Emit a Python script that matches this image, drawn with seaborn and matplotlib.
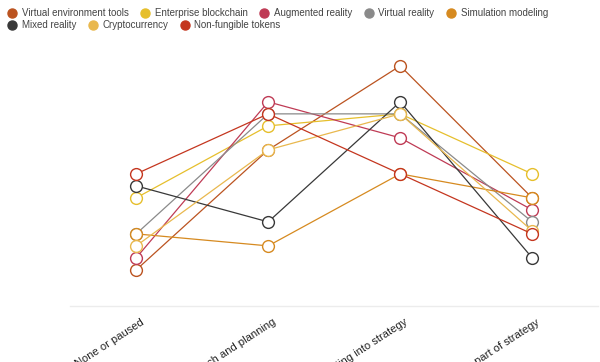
import matplotlib
matplotlib.use("Agg")
import matplotlib.pyplot as plt
import matplotlib.transforms as mtransforms
from matplotlib.lines import Line2D
import pandas as pd
import seaborn as sns

# --- data (arbitrary % scale) ---
stages = ["None or paused", "Research and planning",
          "Integrating into strategy", "Already part of strategy"]

virtual_env_tools = [10, 50, 78, 34]
enterprise_blockchain = [34, 58, 62, 42]
augmented_reality = [14, 66, 54, 30]
virtual_reality = [22, 62, 62, 26]
simulation_modeling = [22, 18, 42, 34]
mixed_reality = [38, 26, 66, 14]
cryptocurrency = [18, 50, 62, 23]
nft = [42, 62, 42, 22]

series_names = ["Virtual environment tools", "Enterprise blockchain", "Augmented reality",
                "Virtual reality", "Simulation modeling", "Mixed reality",
                "Cryptocurrency", "Non-fungible tokens"]
series_values = [virtual_env_tools, enterprise_blockchain, augmented_reality,
                 virtual_reality, simulation_modeling, mixed_reality,
                 cryptocurrency, nft]
colors = ["#bb5320", "#e6bf2c", "#bf3b55", "#8a8a8a",
          "#d68a20", "#383838", "#e9b84e", "#c4361f"]

rows = []
for name, vals in zip(series_names, series_values):
    for st, v in zip(stages, vals):
        rows.append({"stage": st, "series": name, "value": v})
df = pd.DataFrame(rows)

# --- plot ---
sns.set_style("white")
plt.rcParams["font.family"] = ["Liberation Sans", "DejaVu Sans"]

fig = plt.figure(figsize=(6, 3.62), dpi=100)
ax = fig.add_axes([0.117, 0.155, 0.88, 0.707])

sns.lineplot(data=df, x="stage", y="value", hue="series", hue_order=series_names,
             palette=colors, marker="o", markersize=8.5, markerfacecolor="white",
             linewidth=0.9, legend=False, ax=ax, sort=False)
for ln in ax.lines:
    ln.set_markeredgecolor(ln.get_color())
    ln.set_markeredgewidth(1.0)

ax.set_xlim(-0.5, 3.5)
ax.set_ylim(-2, 83.3)
ax.set_xlabel("")
ax.set_ylabel("")
ax.set_yticks([])
for s in ["left", "right", "top"]:
    ax.spines[s].set_visible(False)
ax.spines["bottom"].set_color("#ececec")
ax.spines["bottom"].set_linewidth(1.0)

# labels run off the bottom edge, as in the original
ax.set_xticks(range(len(stages)))
ax.set_xticklabels(stages, rotation=33, ha="right", va="top",
                   rotation_mode="anchor", fontsize=8, color="#222222")
ax.tick_params(axis="x", length=0, pad=8)
offset = mtransforms.ScaledTranslation(4 / 100, 0, fig.dpi_scale_trans)
for lab in ax.get_xticklabels():
    lab.set_transform(lab.get_transform() + offset)

# legend, two flowing rows
def handle(c):
    return Line2D([], [], linestyle="none", marker="o", markersize=6.5,
                  markerfacecolor=c, markeredgecolor=c)

leg_kw = dict(frameon=False, fontsize=7, handlelength=0.8, handletextpad=0.6,
              columnspacing=1.3, borderpad=0, borderaxespad=0, loc="center left",
              labelcolor="#444444")
leg1 = fig.legend([handle(c) for c in colors[:5]], series_names[:5], ncol=5,
                  bbox_to_anchor=(8 / 600, 1 - 13 / 362), **leg_kw)
leg2 = fig.legend([handle(c) for c in colors[5:]], series_names[5:], ncol=3,
                  bbox_to_anchor=(8 / 600, 1 - 25 / 362), **leg_kw)

fig.savefig("out.png", dpi=100)
